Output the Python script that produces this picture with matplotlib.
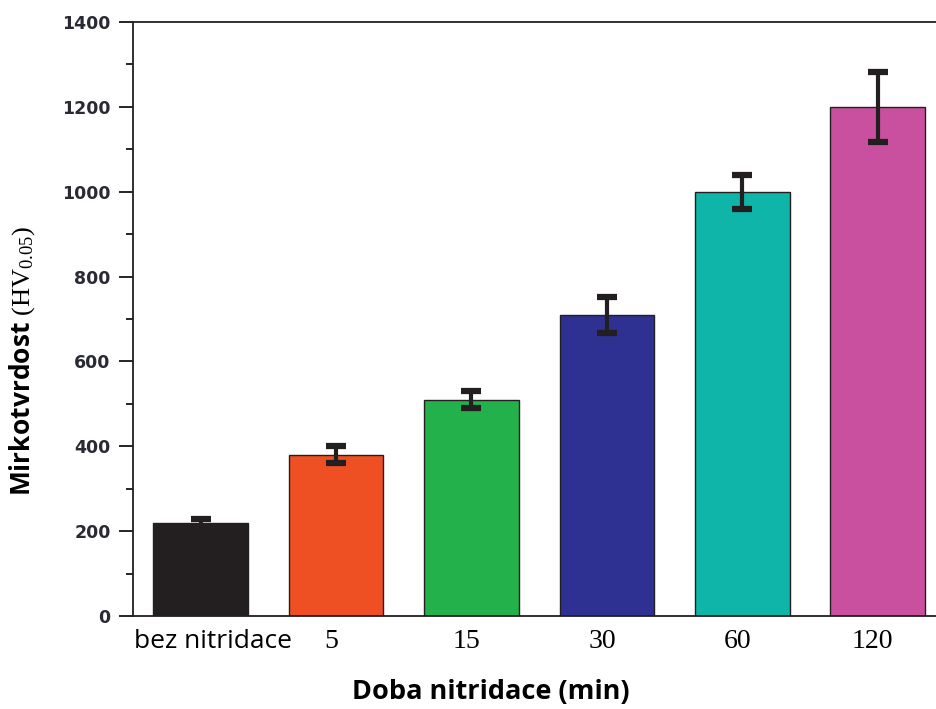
import matplotlib
matplotlib.use("Agg")
import matplotlib.pyplot as plt
import matplotlib.transforms as mtransforms
from matplotlib.ticker import MultipleLocator

# data
categories = ["bez nitridace", "5", "15", "30", "60", "120"]
hardness = [220, 380, 510, 710, 1000, 1200]
errors = [10, 20, 20, 43, 40, 82]
colors = ["#231f20", "#ef5023", "#23b14c", "#2e3192", "#0fb5a8", "#c9509f"]

plt.rcParams["mathtext.fontset"] = "custom"
plt.rcParams["mathtext.rm"] = "Liberation Serif"
plt.rcParams["mathtext.it"] = "Liberation Serif:italic"

fig = plt.figure(figsize=(9.36, 7.09), dpi=100)
ax = fig.add_axes([0.142, 0.131, 0.858, 0.838])

x = list(range(len(categories)))
ax.bar(x, hardness, width=0.70, color=colors, edgecolor="#231f20", linewidth=1.0, zorder=2)
ax.errorbar(x, hardness, yerr=errors, fmt="none", ecolor="#231f20",
            elinewidth=3, capsize=7, capthick=4.5, zorder=3)

ax.set_xlim(-0.5, 5.43)
ax.set_ylim(0, 1400)
ax.yaxis.set_major_locator(MultipleLocator(200))
ax.yaxis.set_minor_locator(MultipleLocator(100))
ax.tick_params(axis="y", which="major", direction="out", length=10, width=1.2, pad=6)
ax.tick_params(axis="y", which="minor", direction="out", length=5, width=1.2)
for lab in ax.get_yticklabels():
    lab.set_fontfamily("DejaVu Sans")
    lab.set_fontweight("bold")
    lab.set_fontsize(12.5)
    lab.set_color("#2a2a35")

ax.set_xticks(x)
ax.set_xticklabels(categories)
ax.tick_params(axis="x", length=0, pad=9)
for i, lab in enumerate(ax.get_xticklabels()):
    if i == 0:
        lab.set_fontfamily("Open Sans")
        lab.set_fontsize(19)
        shift = 12
    else:
        lab.set_fontfamily("Liberation Serif")
        lab.set_fontsize(20)
        shift = -5
    lab.set_transform(lab.get_transform() +
                      mtransforms.ScaledTranslation(shift / 100, 0, fig.dpi_scale_trans))

ax.spines["right"].set_visible(False)
for s in ["left", "top", "bottom"]:
    ax.spines[s].set_linewidth(1.3)
    ax.spines[s].set_color("#231f20")

ax.set_xlabel("Doba nitridace (min)", fontfamily="Open Sans", fontweight="bold",
              fontsize=19.5)
ax.xaxis.set_label_coords(0.446, -0.105)
ax.set_ylabel(r"Mirkotvrdost $\mathrm{(HV_{0.05})}$", fontfamily="Open Sans",
              fontweight="bold", fontsize=19)
ax.yaxis.set_label_coords(-0.12, 0.43)

fig.savefig("out.png", dpi=100)
